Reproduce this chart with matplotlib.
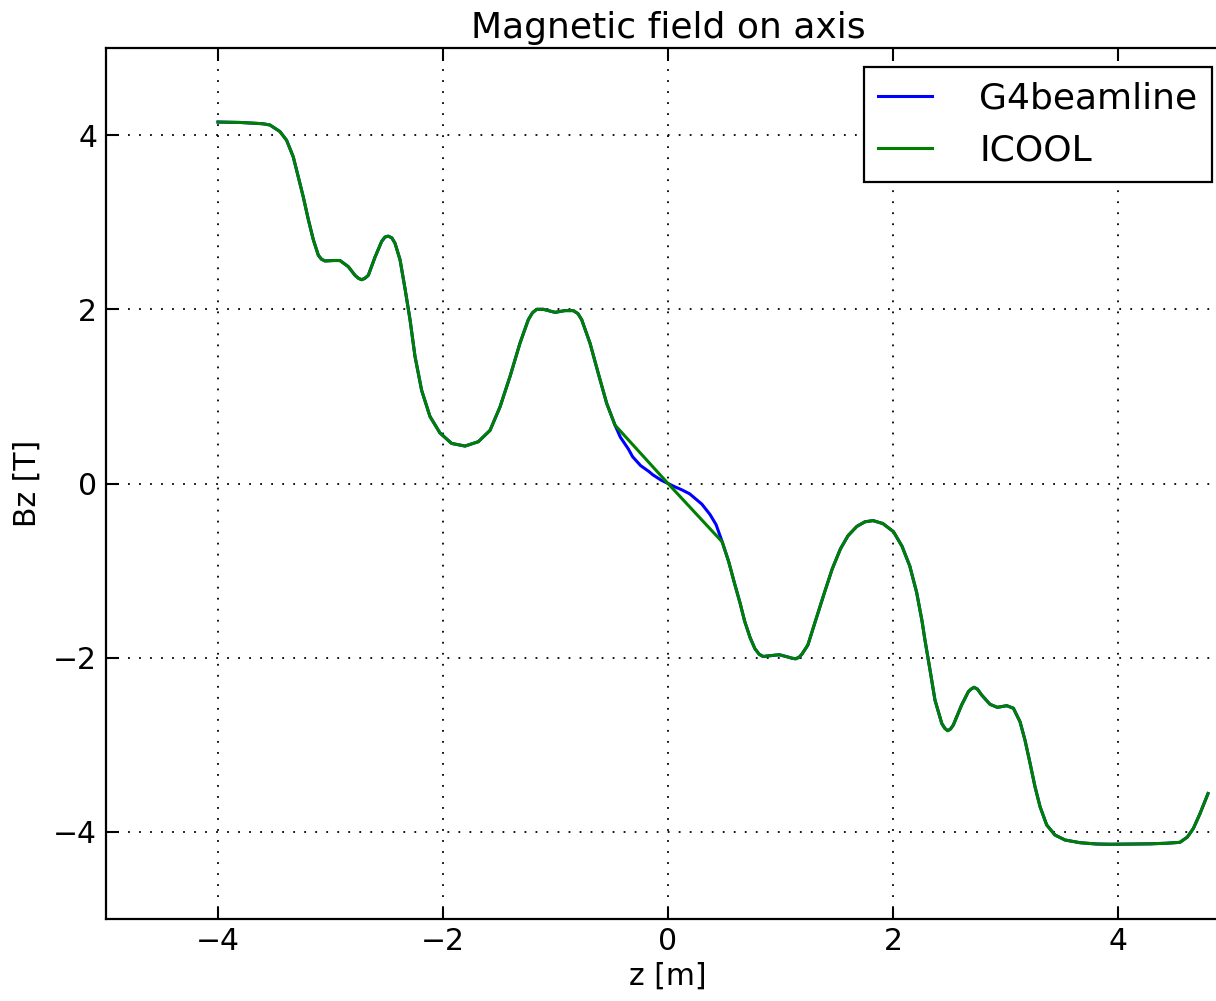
import matplotlib
matplotlib.use('Agg')
import matplotlib.pyplot as plt

# ---- data ----
# shared outer part, left of the central region
z_left = [-4.0, -3.8, -3.656, -3.60, -3.538, -3.449, -3.39, -3.331, -3.286, -3.242,
          -3.197, -3.153, -3.108, -3.08, -3.049, -2.975, -2.916, -2.842, -2.782, -2.75,
          -2.723, -2.695, -2.664, -2.604, -2.545, -2.515, -2.486, -2.455, -2.427, -2.382,
          -2.338, -2.293, -2.249, -2.19, -2.116, -2.027, -1.923, -1.804, -1.686, -1.582,
          -1.493, -1.404, -1.316, -1.242, -1.205, -1.167, -1.108, -1.004, -0.916, -0.842,
          -0.80, -0.767, -0.693, -0.62, -0.545, -0.471]
b_left = [4.15, 4.145, 4.135, 4.13, 4.116, 4.04, 3.94, 3.75, 3.52, 3.29,
          3.03, 2.80, 2.62, 2.575, 2.555, 2.56, 2.56, 2.49, 2.39, 2.355,
          2.34, 2.355, 2.39, 2.60, 2.78, 2.83, 2.84, 2.82, 2.76, 2.57,
          2.24, 1.88, 1.46, 1.07, 0.77, 0.58, 0.46, 0.43, 0.48, 0.61,
          0.88, 1.23, 1.61, 1.88, 1.96, 2.00, 2.00, 1.965, 1.985, 1.985,
          1.95, 1.88, 1.61, 1.265, 0.92, 0.67]

# shared outer part, right of the central region
z_right = [0.482, 0.54, 0.591, 0.64, 0.681, 0.73, 0.772, 0.81, 0.845, 0.92,
           0.989, 1.06, 1.10, 1.134, 1.165, 1.19, 1.243, 1.31, 1.388, 1.46,
           1.533, 1.60, 1.678, 1.75, 1.823, 1.91, 2.004, 2.08, 2.149, 2.21,
           2.258, 2.284, 2.329, 2.373, 2.433, 2.46, 2.486, 2.51, 2.536, 2.61,
           2.67, 2.695, 2.72, 2.75, 2.788, 2.862, 2.927, 3.011, 3.07, 3.129,
           3.173, 3.218, 3.262, 3.307, 3.366, 3.44, 3.529, 3.662, 3.81, 3.929,
           4.1, 4.288, 4.433, 4.55, 4.616, 4.67, 4.729, 4.80]
b_right = [-0.671, -0.90, -1.145, -1.37, -1.579, -1.77, -1.895, -1.96, -1.986, -1.975,
           -1.966, -1.99, -2.005, -2.013, -1.995, -1.96, -1.855, -1.58, -1.263, -0.98,
           -0.750, -0.60, -0.493, -0.44, -0.426, -0.46, -0.553, -0.72, -0.947, -1.25,
           -1.579, -1.797, -2.14, -2.486, -2.753, -2.81, -2.838, -2.82, -2.773, -2.543,
           -2.39, -2.36, -2.34, -2.36, -2.428, -2.535, -2.57, -2.551, -2.58, -2.735,
           -2.945, -3.21, -3.48, -3.71, -3.92, -4.036, -4.093, -4.124, -4.139, -4.142,
           -4.14, -4.137, -4.13, -4.12, -4.06, -3.96, -3.79, -3.56]

# central region, G4beamline (smooth)
z_mid_g4 = [-0.424, -0.352, -0.315, -0.243, -0.170, -0.134, -0.062, 0.0,
            0.062, 0.12, 0.192, 0.265, 0.301, 0.373, 0.428]
b_mid_g4 = [0.533, 0.395, 0.308, 0.205, 0.138, 0.099, 0.039, 0.0,
            -0.039, -0.071, -0.118, -0.197, -0.237, -0.355, -0.474]

# central region, ICOOL (straight segment)
z_mid_icool = [0.0]
b_mid_icool = [0.0]

labels = ['G4beamline', 'ICOOL']
colors = ['#0000ff', '#008000']

z_g4 = z_left + z_mid_g4 + z_right
b_g4 = b_left + b_mid_g4 + b_right
z_ic = z_left + z_mid_icool + z_right
b_ic = b_left + b_mid_icool + b_right

W, H = 1216, 1001
fig = plt.figure(figsize=(W / 100, H / 100), dpi=100)
fig.patch.set_facecolor('white')
ax = fig.add_axes([105.5 / W, 82 / H, 1125 / W, 871 / H])

ax.plot(z_g4, b_g4, color=colors[0], lw=2.2, label=labels[0],
        solid_joinstyle='round')
ax.plot(z_ic, b_ic, color=colors[1], lw=2.2, label=labels[1],
        solid_joinstyle='round')

ax.set_xlim(-5, 5)
ax.set_ylim(-5, 5)
ticks = [-4, -2, 0, 2, 4]
ax.set_xticks(ticks)
ax.set_yticks(ticks)
ax.tick_params(direction='in', length=9, width=1.5, labelsize=21.5,
               top=True, right=True, pad=6, color='black')
for s in ax.spines.values():
    s.set_linewidth(1.6)
ax.grid(True, color='black', linestyle=(0, (1, 5.1)), linewidth=1.3)

ax.set_title('Magnetic field on axis', fontsize=26, pad=7)
ax.set_xlabel('z [m]', fontsize=21.5, labelpad=4)
ax.set_ylabel('Bz [T]', fontsize=21.5, labelpad=8)

leg = ax.legend(loc='upper right', bbox_to_anchor=(1212 / W, 1 - 66.7 / H),
                bbox_transform=fig.transFigure, borderaxespad=0,
                fontsize=26, fancybox=False, framealpha=1, edgecolor='black',
                handlelength=1.5, handletextpad=1.3, borderpad=0.4,
                labelspacing=0.5)
leg.get_frame().set_linewidth(1.6)
for h in leg.get_lines():
    h.set_linewidth(2.2)

fig.savefig('out.png', dpi=100, facecolor='white')
